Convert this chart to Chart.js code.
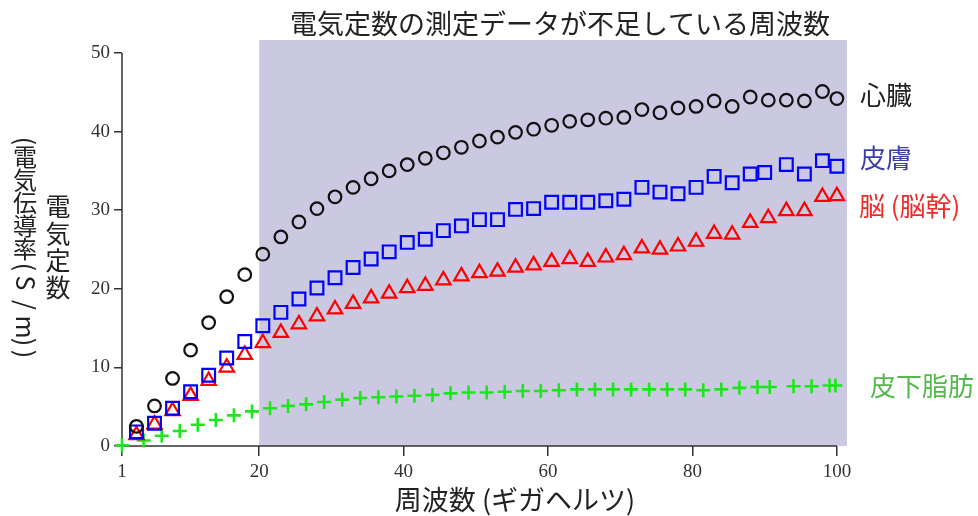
<!DOCTYPE html>
<html>
<head>
<meta charset="utf-8">
<script src="https://cdn.jsdelivr.net/npm/chart.js@4.4.0/dist/chart.umd.min.js"></script>
<style>
  html, body { margin: 0; padding: 0; background: #fff; }
</style>
</head>
<body>
<canvas id="chart" width="978" height="516"></canvas>
<script>
const chart = document.getElementById("chart");

// frequency (GHz) and conductivity (S/m)
const heartX = [3, 5.5, 8, 10.5, 13, 15.5, 18, 20.5, 23, 25.5, 28, 30.5, 33, 35.5, 38, 40.5, 43, 45.5, 48, 50.5,
  53, 55.5, 58, 60.5, 63, 65.5, 68, 70.5, 73, 75.5, 78, 80.5, 83, 85.5, 88, 90.5, 93, 95.5, 98, 100];
const heartY = [2.5, 5.1, 8.6, 12.2, 15.7, 19.0, 21.8, 24.4, 26.6, 28.5, 30.2, 31.7, 32.9, 34.0, 35.0, 35.8, 36.6, 37.3, 38.0, 38.8,
  39.3, 39.9, 40.3, 40.8, 41.3, 41.5, 41.7, 41.8, 42.8, 42.4, 43.0, 43.2, 43.9, 43.2, 44.4, 44.0, 44.0, 43.9, 45.1, 44.2];

const skinX = [3, 5.5, 8, 10.5, 13, 15.5, 18, 20.5, 23, 25.5, 28, 30.5, 33, 35.5, 38, 40.5, 43, 45.5, 48, 50.5,
  53, 55.5, 58, 60.5, 63, 65.5, 68, 70.5, 73, 75.5, 78, 80.5, 83, 85.5, 88, 90, 93, 95.5, 98, 100];
const skinY = [1.8, 2.9, 4.8, 6.9, 9.0, 11.2, 13.3, 15.3, 17.0, 18.7, 20.1, 21.4, 22.7, 23.8, 24.7, 25.9, 26.3, 27.4, 28.0, 28.8,
  28.8, 30.1, 30.2, 31.0, 31.0, 31.0, 31.2, 31.4, 32.9, 32.3, 32.1, 32.9, 34.3, 33.5, 34.6, 34.8, 35.8, 34.6, 36.3, 35.6];

const brainX = [3, 5.5, 8, 10.5, 13, 15.5, 18, 20.5, 23, 25.5, 28, 30.5, 33, 35.5, 38, 40.5, 43, 45.5, 48, 50.5,
  53, 55.5, 58, 60.5, 63, 65.5, 68, 70.5, 73, 75.5, 78, 80.5, 83, 85.5, 88, 90.5, 93, 95.5, 98, 100];
const brainY = [1.4, 2.75, 4.45, 6.4, 8.3, 10.0, 11.6, 13.1, 14.4, 15.5, 16.5, 17.4, 18.1, 18.8, 19.4, 20.1, 20.4, 21.1, 21.6, 22.0,
  22.2, 22.7, 23.0, 23.45, 23.8, 23.45, 24.0, 24.3, 25.15, 25.0, 25.4, 26.0, 27.0, 26.9, 28.4, 29.0, 29.9, 29.9, 31.7, 31.8];

const fatX = [1, 4, 6.5, 9, 11.5, 14, 16.5, 19, 21.5, 24, 26.5, 29, 31.5, 34, 36.5, 39, 41.5, 44, 46.5, 49,
  51.5, 54, 56.5, 59, 61.5, 64, 66.5, 69, 71.5, 74, 76.5, 79, 81.5, 84, 86.5, 89, 90.7, 94, 96.5, 99, 99.8];
const fatY = [0.1, 0.7, 1.3, 1.9, 2.7, 3.3, 3.9, 4.4, 4.8, 5.1, 5.3, 5.6, 5.9, 6.1, 6.2, 6.3, 6.4, 6.5, 6.7, 6.8,
  6.8, 6.9, 7.0, 7.0, 7.1, 7.2, 7.2, 7.2, 7.2, 7.2, 7.2, 7.2, 7.1, 7.2, 7.4, 7.5, 7.5, 7.6, 7.6, 7.7, 7.7];

const xTicks = [1, 20, 40, 60, 80, 100];
const yTicks = [0, 10, 20, 30, 40, 50];
const shadeFrom = 20;

const title = "電気定数の測定データが不足している周波数";
const xTitle = "周波数 (ギガヘルツ)";
const seriesNames = ["心臓", "皮膚", "脳 (脳幹)", "皮下脂肪"];

const cjk = "'Noto Sans CJK JP', 'Noto Sans', sans-serif";

function points(xs, ys) {
  return xs.map((x, i) => ({ x: x, y: ys[i] }));
}

// lavender band for the range without measured data
const shadePlugin = {
  id: "shade",
  beforeDatasetsDraw(c) {
    const ctx = c.ctx, a = c.chartArea;
    const x0 = c.scales.x.getPixelForValue(shadeFrom);
    ctx.save();
    ctx.fillStyle = "#cbc8e2";
    ctx.fillRect(x0, a.top, a.right - x0, c.scales.y.getPixelForValue(0) - a.top);
    ctx.restore();
  },
};

// axis lines only over the ticked range
const axisPlugin = {
  id: "axes",
  beforeDatasetsDraw(c) {
    const ctx = c.ctx, xs = c.scales.x, ys = c.scales.y;
    const left = xs.getPixelForValue(xTicks[0]);
    const bottom = ys.getPixelForValue(0);
    ctx.save();
    ctx.strokeStyle = "#333";
    ctx.lineWidth = 1.5;
    ctx.beginPath();
    ctx.moveTo(left, ys.getPixelForValue(50));
    ctx.lineTo(left, bottom);
    ctx.lineTo(xs.getPixelForValue(100), bottom);
    ctx.stroke();
    ctx.restore();
  },
};

function drawChar(ctx, ch, x, y, rotate) {
  ctx.save();
  ctx.translate(x, y);
  if (rotate) ctx.rotate(Math.PI / 2);
  ctx.fillText(ch, 0, 0);
  ctx.restore();
}

const textPlugin = {
  id: "texts",
  afterDraw(c) {
    const ctx = c.ctx, a = c.chartArea;
    ctx.save();
    ctx.textBaseline = "middle";
    ctx.textAlign = "center";
    ctx.fillStyle = "#222";

    ctx.font = "27px " + cjk;
    ctx.fillText(title, 560, 24);
    ctx.fillText(xTitle, 515, 500);

    // vertical y-axis title, two columns
    ctx.font = "25px " + cjk;
    const right = ["電", "気", "定", "数"];
    right.forEach((ch, i) => drawChar(ctx, ch, 58, 206 + i * 27, false));

    // left column: ideographs upright, latin and brackets turned
    const left = [["(", 141, true], ["電", 157, false], ["気", 180, false], ["伝", 203, false],
      ["導", 226, false], ["率", 249, false], ["(", 267, true], ["S", 283, true], ["/", 305, true],
      ["m", 327, true], [")", 342, true], [")", 354, true]];
    left.forEach(p => {
      ctx.font = (p[2] ? "25px " : "24px ") + cjk;
      drawChar(ctx, p[0], 25, p[1], p[2]);
    });

    // series names at the right
    ctx.textAlign = "left";
    ctx.font = "26px " + cjk;
    ctx.fillStyle = "#222";
    ctx.fillText(seriesNames[0], a.right + 13, 95);
    ctx.fillStyle = "#3b3fa8";
    ctx.fillText(seriesNames[1], a.right + 13, 158);
    ctx.fillStyle = "#ee2a2a";
    ctx.fillText(seriesNames[2], a.right + 12, 206);
    ctx.fillStyle = "#55b84c";
    ctx.fillText(seriesNames[3], a.right + 23, 386);
    ctx.restore();
  },
};

function showChart() {
  new Chart(chart, {
    type: "scatter",
    data: {
      datasets: [
        { label: seriesNames[0], data: points(heartX, heartY), pointStyle: "circle", pointRadius: 6.3,
          borderColor: "#111", backgroundColor: "rgba(0,0,0,0)", borderWidth: 2.2, clip: false },
        { label: seriesNames[1], data: points(skinX, skinY), pointStyle: "rect", pointRadius: 9,
          borderColor: "#0000ff", backgroundColor: "rgba(0,0,0,0)", borderWidth: 2.2, clip: false },
        { label: seriesNames[2], data: points(brainX, brainY), pointStyle: "triangle", pointRadius: 8.3,
          borderColor: "#ff0000", backgroundColor: "rgba(0,0,0,0)", borderWidth: 2.2, clip: false },
        { label: seriesNames[3], data: points(fatX, fatY), pointStyle: "cross", pointRadius: 7,
          borderColor: "#1ee61e", backgroundColor: "rgba(0,0,0,0)", borderWidth: 2.6, clip: false },
      ],
    },
    options: {
      responsive: false,
      animation: false,
      events: [],
      layout: { padding: { top: 40, right: 131, left: 0, bottom: 0 } },
      plugins: { legend: { display: false }, tooltip: { enabled: false } },
      scales: {
        x: {
          type: "linear",
          min: 1,
          max: 101.4,
          afterFit: s => { s.height = 70; },
          afterBuildTicks: s => { s.ticks = xTicks.map(v => ({ value: v })); },
          grid: { drawOnChartArea: false, drawTicks: true, tickLength: 10, color: "#333", lineWidth: 1.5 },
          border: { display: false },
          ticks: { font: { family: "'Liberation Serif', serif", size: 19 }, color: "#333", padding: 5,
            maxRotation: 0, autoSkip: false, includeBounds: false },
        },
        y: {
          type: "linear",
          min: 0,
          max: 51.65,
          afterFit: s => { s.width = 122; },
          afterBuildTicks: s => { s.ticks = yTicks.map(v => ({ value: v })); },
          grid: { drawOnChartArea: false, drawTicks: true, tickLength: 8, color: "#333", lineWidth: 1.5 },
          border: { display: false },
          ticks: { font: { family: "'Liberation Serif', serif", size: 19 }, color: "#333", padding: 4,
            autoSkip: false, includeBounds: false },
        },
      },
    },
    plugins: [shadePlugin, axisPlugin, textPlugin],
  });
}

window.addEventListener("load", showChart);
</script>
</body>
</html>
